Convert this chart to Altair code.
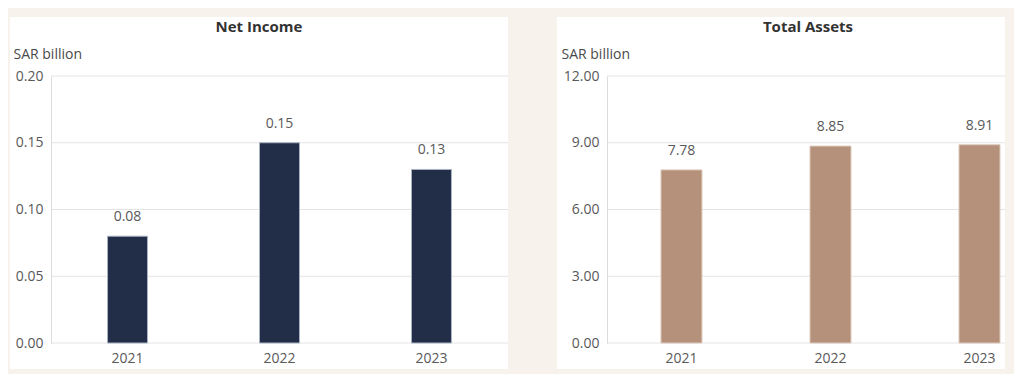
import altair as alt
import pandas as pd

years = ["2021", "2022", "2023"]
net_income = [0.08, 0.15, 0.13]
total_assets = [7.78, 8.85, 8.91]
ni_ticks = [0.0, 0.05, 0.10, 0.15, 0.20]
ta_ticks = [0.0, 3.0, 6.0, 9.0, 12.0]

FONT = "Open Sans"
LABEL_COLOR = "#595959"
GRID_COLOR = "#e4e4e4"


def panel(values, ticks, title, color, stroke, width, height, rect_left,
          pad_inner, pad_outer, align, title_x, sar_x):
    df = pd.DataFrame({"year": years, "value": values})
    tdf = pd.DataFrame({"v": ticks})
    one = pd.DataFrame({"a": [0]})
    yscale = alt.Scale(domain=[ticks[0], ticks[-1]], nice=False)
    xscale = alt.Scale(paddingInner=pad_inner, paddingOuter=pad_outer, align=align)

    bg = alt.Chart(one).mark_rect(color="white").encode(
        x=alt.value(rect_left), x2=alt.value(width),
        y=alt.value(-59), y2=alt.value(height + 26),
    )
    grid = alt.Chart(tdf).mark_rule(color=GRID_COLOR, strokeWidth=1).encode(
        y=alt.Y("v:Q", scale=yscale),
        x=alt.value(0), x2=alt.value(width),
    )
    ttl = alt.Chart(one).mark_text(
        font=FONT, fontSize=15, fontWeight="bold", color="#333333",
        align="center", baseline="middle",
    ).encode(x=alt.value(title_x), y=alt.value(-49), text=alt.value(title))

    base = alt.Chart(df).encode(
        x=alt.X("year:N", scale=xscale, sort=years,
                axis=alt.Axis(title=None, domain=False, ticks=False, grid=False,
                              labelAngle=0, labelFont=FONT, labelFontSize=14,
                              labelColor=LABEL_COLOR, labelPadding=8, zindex=1)),
        y=alt.Y("value:Q", scale=yscale,
                axis=alt.Axis(values=ticks, format=".2f", grid=False, ticks=False,
                              domain=True, domainColor="#dcdcdc",
                              labelFont=FONT, labelFontSize=14,
                              labelColor=LABEL_COLOR, labelPadding=8,
                              title="SAR billion", titleAngle=0, titleAlign="left",
                              titleBaseline="middle", titleX=sar_x, titleY=-22,
                              titleFont=FONT, titleFontSize=14,
                              titleFontWeight="normal", titleColor="#4a4a4a",
                              zindex=1)),
    )
    bars = base.mark_bar(color=color, stroke=stroke, strokeWidth=1)
    labels = base.mark_text(font=FONT, fontSize=14, color=LABEL_COLOR,
                            baseline="middle", dy=-19).encode(
        text=alt.Text("value:Q", format=".2f"))
    return alt.layer(bg, grid, bars, labels, ttl).properties(width=width, height=height)


left = panel(net_income, ni_ticks, "Net Income", "#222e48", "#aab2c2",
             457, 267, -41, 0.737, 0.372, 0.5, 208, -38)
right = panel(total_assets, ta_ticks, "Total Assets", "#b5917b", "#dcc8ba",
              398, 267, -50, 0.725, 0.198, 0.915, 201, -46)

chart = alt.hconcat(left, right, spacing=48).properties(
    background="#f7f2ec",
    padding={"left": 2, "top": 9, "right": 8, "bottom": 5},
).configure_view(stroke=None)

chart.save("out.html", embed_options={"renderer": "svg", "actions": False})
